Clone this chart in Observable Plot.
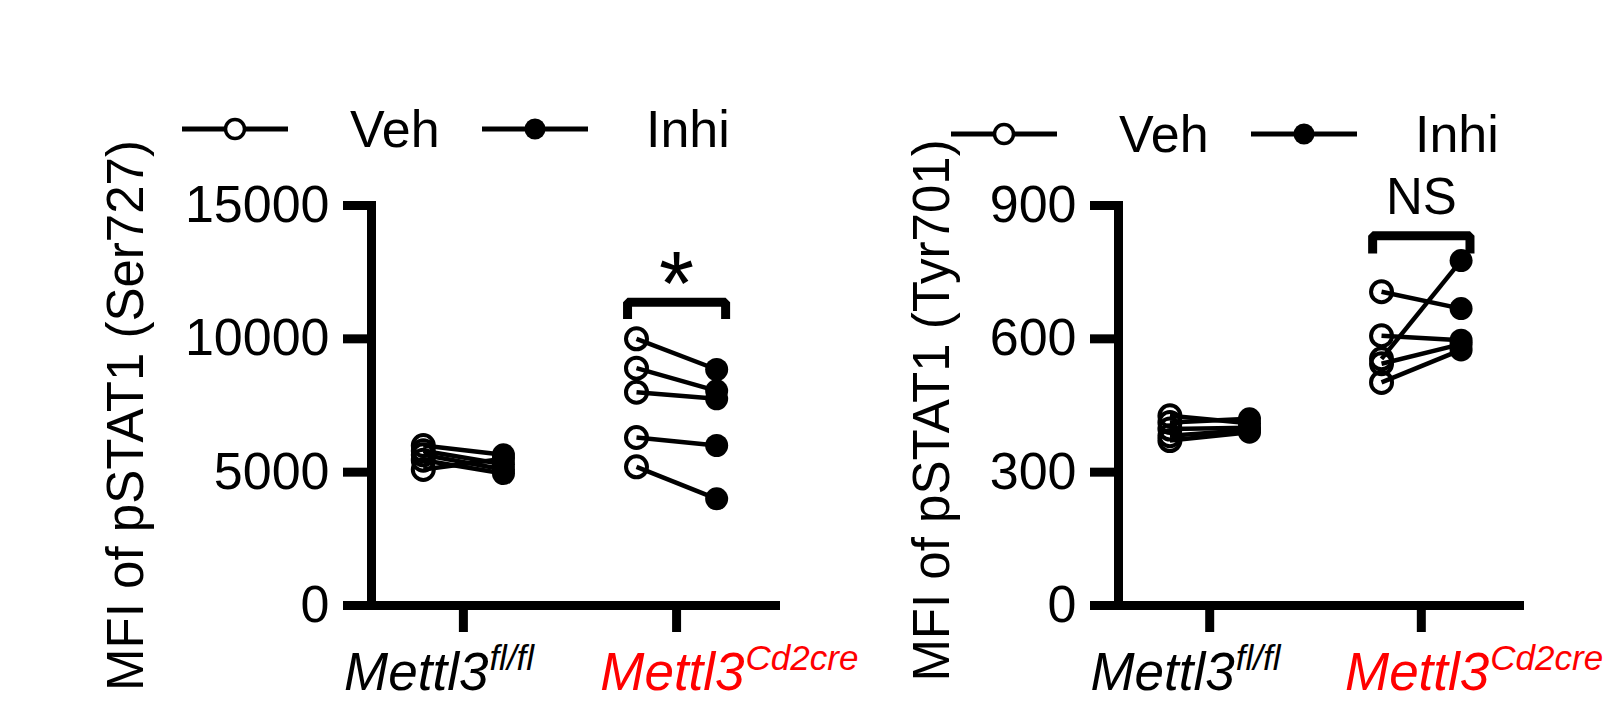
<!DOCTYPE html>
<html><head><meta charset="utf-8">
<script src="https://cdn.jsdelivr.net/npm/d3@7"></script>
<script src="https://cdn.jsdelivr.net/npm/@observablehq/plot@0.6"></script>
<style>
html,body{margin:0;padding:0;background:#fff;}
#wrap{position:relative;width:1624px;height:715px;overflow:hidden;background:#fff;font-family:"Liberation Sans",Arial,sans-serif;}
#wrap svg{position:absolute;top:0;}
</style></head><body><div id="wrap"></div>
<script>
// ---------- data ----------
const groupBase = ["Mettl3", "Mettl3"];
const groupSup = ["fl/fl", "Cd2cre"];
const groupColor = ["#000000", "#ff0000"];
const conditions = ["Veh", "Inhi"];

const serYLabel = "MFI of pSTAT1 (Ser727)";
const serTicks = [0, 5000, 10000, 15000];
const serFlVeh = [6000, 5800, 5650, 5450, 5100];
const serFlInhi = [5650, 5300, 5100, 4950, 5500];
const serCreVeh = [10000, 8900, 8000, 6300, 5200];
const serCreInhi = [8850, 8050, 7750, 6000, 4000];
const serSigText = "*";
const serSigBracket = [10740, 11370];
const serSigTextY = 13280;

const tyrYLabel = "MFI of pSTAT1 (Tyr701)";
const tyrTicks = [0, 300, 600, 900];
const tyrFlVeh = [427, 412, 397, 382, 371];
const tyrFlInhi = [410, 420, 400, 395, 390];
const tyrCreVeh = [706, 607, 555, 544, 502];
const tyrCreInhi = [668, 597, 776, 588, 575];
const tyrSigText = "NS";
const tyrSigBracket = [792, 832];
const tyrSigTextY = 882;

// ---------- layout ----------
const FONT = '"Liberation Sans", Arial, sans-serif';
const OFF = 0.188;      // half-distance Veh/Inhi within a group (x units)
const BR = 0.23;        // bracket half width (x units)
const labelShift = [25, 68];
const wrap = document.getElementById("wrap");

function panel(cfg) {
  const pairs = [];
  cfg.veh.forEach((arr, g) => arr.forEach((v, i) => pairs.push({g, veh: v, inhi: cfg.inhi[g][i]})));
  const vehPts = pairs.map(d => ({x: d.g - OFF, y: d.veh}));
  const inhiPts = pairs.map(d => ({x: d.g + OFF, y: d.inhi}));
  const bracket = [
    {x: 1 - BR, y: cfg.bracket[0]}, {x: 1 - BR, y: cfg.bracket[1]},
    {x: 1 + BR, y: cfg.bracket[1]}, {x: 1 + BR, y: cfg.bracket[0]}
  ];
  const marks = [
    Plot.link(pairs, {x1: d => d.g - OFF, x2: d => d.g + OFF, y1: "veh", y2: "inhi", stroke: "black", strokeWidth: 4.5}),
    Plot.dot(vehPts, {x: "x", y: "y", r: 10.5, stroke: "black", strokeWidth: 4, fill: "none"}),
    Plot.dot(inhiPts, {x: "x", y: "y", r: 11.5, fill: "black", stroke: "none"}),
    Plot.frame({anchor: "left", stroke: "black", strokeWidth: 9, strokeLinecap: "square"}),
    Plot.frame({anchor: "bottom", stroke: "black", strokeWidth: 9}),
    Plot.axisY({ticks: cfg.ticks, tickSize: 28, tickPadding: 14, fontSize: 52, stroke: "black", strokeWidth: 9, label: null, tickFormat: d3.format("d")}),
    Plot.axisX({ticks: [0, 1], tickSize: 27, stroke: "black", strokeWidth: 9, label: null, tickFormat: () => ""}),
    Plot.line(bracket, {x: "x", y: "y", stroke: "black", strokeWidth: 9, strokeLinejoin: "miter", strokeLinecap: "butt"}),
    Plot.text([cfg.sigText], {x: () => 1, y: () => cfg.sigY, text: d => d, fontSize: cfg.sigSize, lineAnchor: cfg.sigAnchor, textAnchor: "middle", fill: "black"}),
    Plot.text([cfg.label], {frameAnchor: "left", text: d => d, rotate: -90, dx: cfg.labelDx, dy: cfg.labelDy, fontSize: 51, fill: "black", textAnchor: "middle"})
  ];
  groupBase.forEach((b, g) => {
    marks.push(Plot.text([b], {x: () => g, frameAnchor: "bottom", text: d => d, textAnchor: "end", lineAnchor: "bottom", dx: labelShift[g], dy: 84, fontSize: 53, fontStyle: "italic", fill: groupColor[g]}));
    marks.push(Plot.text([groupSup[g]], {x: () => g, frameAnchor: "bottom", text: d => d, textAnchor: "start", lineAnchor: "bottom", dx: labelShift[g] + 1, dy: 64, fontSize: 35, fontStyle: "italic", fill: groupColor[g]}));
  });
  const svg = Plot.plot({
    width: cfg.width, height: 715,
    marginLeft: cfg.marginLeft, marginRight: cfg.marginRight, marginTop: 205, marginBottom: 110,
    style: {background: "transparent", overflow: "visible", fontFamily: FONT, color: "black"},
    x: {type: "linear", domain: [-0.431, 1.464]},
    y: {domain: [0, cfg.yMax]},
    marks
  });
  svg.style.left = cfg.left + "px";
  wrap.appendChild(svg);
}

panel({left: 0, width: 812, marginLeft: 371, marginRight: 37, yMax: 15000, ticks: serTicks,
  label: serYLabel, labelDx: -245, labelDy: 10,
  veh: [serFlVeh, serCreVeh], inhi: [serFlInhi, serCreInhi],
  sigText: serSigText, bracket: serSigBracket, sigY: serSigTextY, sigAnchor: "top", sigSize: 90});

panel({left: 812, width: 812, marginLeft: 306, marginRight: 105, yMax: 900, ticks: tyrTicks,
  label: tyrYLabel, labelDx: -186, labelDy: 5,
  veh: [tyrFlVeh, tyrCreVeh], inhi: [tyrFlInhi, tyrCreInhi],
  sigText: tyrSigText, bracket: tyrSigBracket, sigY: tyrSigTextY, sigAnchor: "bottom", sigSize: 51});

// ---------- legends ----------
const leg = d3.select(wrap).append("svg").attr("width", 1624).attr("height", 715).style("left", "0px");
function legend(x0, y0) {
  conditions.forEach((c, i) => {
    const lx = x0 + i * 300;
    leg.append("line").attr("x1", lx).attr("x2", lx + 106).attr("y1", y0).attr("y2", y0)
      .attr("stroke", "black").attr("stroke-width", 5);
    const cx = lx + 53;
    if (c === "Veh") {
      leg.append("circle").attr("cx", cx).attr("cy", y0).attr("r", 9.5)
        .attr("fill", "white").attr("stroke", "black").attr("stroke-width", 3.5);
    } else {
      leg.append("circle").attr("cx", cx).attr("cy", y0).attr("r", 10.5).attr("fill", "black");
    }
    leg.append("text").attr("x", x0 + 168 + i * 296).attr("y", y0 + 18)
      .attr("font-family", FONT).attr("font-size", 52).attr("fill", "black").text(c);
  });
}
legend(182, 129);
legend(951, 134);
</script></body></html>
